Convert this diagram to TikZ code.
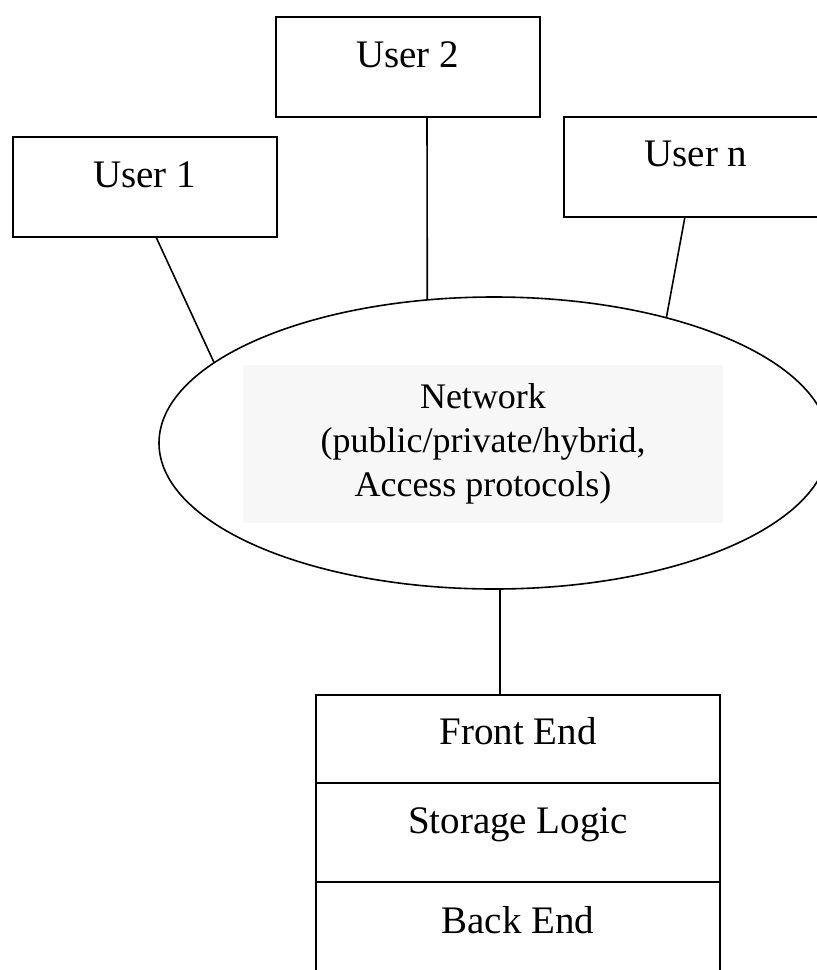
\documentclass[tikz,border=0pt]{standalone}
\usepackage{fontspec}
\setmainfont{Liberation Serif}
\usetikzlibrary{shapes.geometric,positioning}

\tikzset{
  userbox/.style={draw, line width=1pt, inner sep=0pt, outer sep=0pt,
    minimum width=132pt, text height=25pt, text depth=25pt,
    font=\fontsize{19.5}{23}\selectfont},
  tier/.style={draw, line width=1pt, inner sep=0pt, outer sep=0pt,
    minimum width=202pt, text height=25pt, text depth=24.5pt,
    font=\fontsize{19.5}{23}\selectfont},
  link/.style={line width=0.8pt},
}

\begin{document}
\begin{tikzpicture}[x=0.5pt,y=-0.5pt]
		%%%%% START %%%%%
		\clip (0,0) rectangle (817,970);
		
		% users
		\node[userbox] (u1) at (144.5,187) {User 1};
		\node[userbox] (u2) at (407.5,67) {User 2};
		\node[userbox] (un) at (696,166.5) {User n};
		
		% network cloud
		\node[draw, ellipse, line width=0.8pt, inner sep=0pt, outer sep=0pt,
		  minimum width=335pt, minimum height=146pt] (net) at (494,443) {};
		\node[fill=black!3, inner sep=0pt, minimum width=240pt, minimum height=79pt,
		  align=center, font=\fontsize{18}{22}\selectfont] (netlabel) at (483,444)
		  {Network\\(public/private/hybrid,\\Access protocols)};
		
		\draw[link] ([xshift=5.75pt]u1.south) -- (net.164.3);
		\draw[link] ([xshift=9.75pt]u2.south) -- (net.115.1);
		\draw[link] ([xshift=-5.5pt]un.south) -- (net.36.4);
		
		% server stack
		\node[tier, text depth=19.5pt, text height=24.5pt] (front) at (518,739) {Front End};
		\node[tier, below=0pt of front] (logic) {Storage Logic};
		\node[tier, text height=25.5pt, below=0pt of logic] (back) {Back End};
		
		\coordinate (drop) at ([xshift=3pt]net.south);
		\draw[link] (drop) -- (drop |- front.north);
		
		%%%%% END %%%%%
\end{tikzpicture}
\end{document}
